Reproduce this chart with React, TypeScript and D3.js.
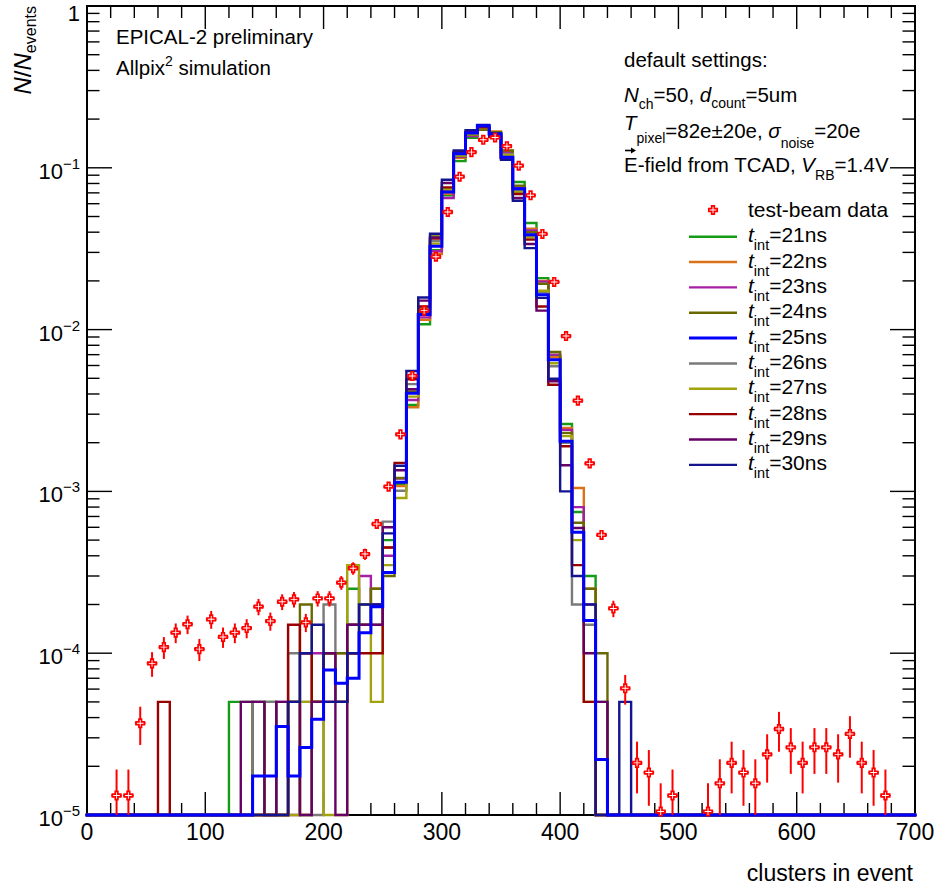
import React from 'react';
import * as d3 from 'd3';

// ---------- data ----------
const BIN_WIDTH = 10;
const BIN_LO = [60,70,80,90,100,110,120,130,140,150,160,170,180,190,200,210,220,230,240,250,260,270,280,290,300,310,320,330,340,350,360,370,380,390,400,410,420,430,440,450];

const SIM_21 = [0,0,0,0,0,0, 5e-5,5e-5,0,5e-5, 0,5e-5,0,5e-5,1e-4, 5e-5,2.5e-4,1.5e-4,2e-4,5.0e-4, 1.11e-3,3.42e-3,1.08e-2,3.1e-2,6.76e-2, 0.110,0.153,0.175,0.164,0.126, 8.17e-2,4.56e-2,2.08e-2,6.9e-3,2.61e-3, 7.46e-4,3.0e-4,5e-5,0,0];
const SIM_22 = [0,0,0,0,0,0, 0,0,0,0, 0,5e-5,0,5e-5,1e-4, 1e-4,1e-4,1.5e-4,2.5e-4,4.5e-4, 1.08e-3,3.31e-3,1.15e-2,2.93e-2,6.9e-2, 0.115,0.159,0.172,0.168,0.127, 7.6e-2,4.21e-2,2.0e-2,6.74e-3,2.47e-3, 1.05e-3,2.5e-4,0,0,0];
const SIM_23 = [0,0,0,0,0,0, 0,0,0,0, 5e-5,0,1e-4,1e-4,5e-5, 5e-5,1.5e-4,3e-4,2e-4,4.0e-4, 1.2e-3,3.67e-3,1.19e-2,3.05e-2,6.5e-2, 0.117,0.157,0.174,0.165,0.124, 7.5e-2,4.1e-2,1.98e-2,7.0e-3,2.4e-3, 8.0e-4,2.0e-4,0,0,0];
const SIM_24 = [0,0,0,0,0,0, 0,0,5e-5,0, 0,5e-5,2e-4,5e-5,1e-4, 1e-4,1.5e-4,2e-4,2.5e-4,3.0e-4, 1.21e-3,4.15e-3,1.28e-2,3.77e-2,7.2e-2, 0.118,0.16,0.172,0.166,0.128, 7.76e-2,4.0e-2,1.92e-2,7.27e-3,2.3e-3, 6.4e-4,2.5e-4,1e-4,0,0];
const SIM_25 = [0,0,0,0,0,0, 0,0,1.74e-5,1.74e-5, 3.52e-5,1.74e-5,2.61e-5,3.9e-5,7.87e-5, 6.52e-5,7.0e-5,1.34e-4,1.94e-4,3.15e-4, 1.14e-3,4.04e-3,1.24e-2,3.27e-2,7.08e-2, 0.122,0.164,0.182,0.162,0.116, 7.43e-2,3.86e-2,1.64e-2,6.52e-3,2.04e-3, 5.6e-4,1.59e-4,2.2e-5,0,0];
const SIM_26 = [0,0,0,0,0,0, 0,0,5e-5,5e-5, 0,1e-4,5e-5,0,2e-4, 5e-5,1e-4,1.5e-4,1.5e-4,6.5e-4, 1.01e-3,4.6e-3,1.3e-2,3.52e-2,7.3e-2, 0.12,0.162,0.177,0.16,0.122, 7.2e-2,3.75e-2,1.7e-2,5.93e-3,2.0e-3, 2.0e-4,1.5e-4,0,0,0];
const SIM_27 = [0,0,0,0,0,0, 0,0,0,0, 0,0,5e-5,5e-5,0, 0,3.5e-4,2e-4,5e-5,3.5e-4, 9.1e-4,3.85e-3,1.35e-2,3.4e-2,7.4e-2, 0.119,0.161,0.176,0.16,0.12, 7.1e-2,3.7e-2,1.74e-2,6.2e-3,2.2e-3, 5.0e-4,5e-5,0,0,0];
const SIM_28 = [5e-5,0,0,0,0,0, 0,0,0,0, 0,1.5e-4,1e-4,5e-5,5e-5, 5e-5,1e-4,1e-4,1e-4,4.5e-4, 1.5e-3,4.93e-3,1.39e-2,3.65e-2,7.57e-2, 0.125,0.165,0.178,0.155,0.115, 6.89e-2,3.6e-2,1.39e-2,4.56e-3,1.9e-3, 3.5e-4,5e-5,0,0,0];
const SIM_29 = [0,0,0,0,0,0, 0,5e-5,5e-5,0, 5e-5,5e-5,0,5e-5,1e-4, 0,1.5e-4,1.5e-4,1.5e-4,6.0e-4, 1.35e-3,4.28e-3,1.51e-2,3.7e-2,8.05e-2, 0.124,0.166,0.18,0.158,0.114, 6.5e-2,3.38e-2,1.31e-2,4.8e-3,1.45e-3, 5.94e-4,1.0e-4,5e-5,0,0];
const SIM_30 = [0,0,0,0,0,0, 0,0,0,0, 0,5e-5,1e-4,1.5e-4,5e-5, 5e-5,1e-4,2e-4,2e-4,5.5e-4, 1.44e-3,5.55e-3,1.58e-2,3.91e-2,8.44e-2, 0.128,0.171,0.184,0.163,0.112, 6.26e-2,3.19e-2,1.57e-2,4.97e-3,1.0e-3, 3.0e-4,2.0e-4,0,0,5e-5];

const SERIES_LABELS = ['21ns','22ns','23ns','24ns','25ns','26ns','27ns','28ns','29ns','30ns'];
const SERIES_VALUES = [SIM_21,SIM_22,SIM_23,SIM_24,SIM_25,SIM_26,SIM_27,SIM_28,SIM_29,SIM_30];
const SERIES_COLORS = ['#169b16','#dc7218','#a61fa6','#686800','#0000ff','#7a7a7a','#a3a30e','#990000','#660066','#14148f'];
const DRAW_ORDER = [0,1,2,3,5,6,7,8,9,4];

const DATA_X = [25,35,45,55,65,75,85,95,105,115,125,135,145,155,165,175,185,195,205,215,225,235,245,255,265,275,285,295,305,315,325,335,345,355,365,375,385,395,405,415,425,435,445,455,465,475,485,495,525,535,545,555,565,575,585,595,605,615,625,635,645,655,665,675];
const DATA_Y = [1.32e-5,1.32e-5,3.69e-5,8.65e-5,1.09e-4,1.34e-4,1.51e-4,1.06e-4,1.62e-4,1.26e-4,1.34e-4,1.43e-4,1.94e-4,1.58e-4,2.08e-4,2.15e-4,1.55e-4,2.18e-4,2.18e-4,2.73e-4,3.35e-4,4.1e-4,6.29e-4,1.07e-3,2.25e-3,5.17e-3,1.31e-2,2.82e-2,5.33e-2,8.81e-2,0.125,0.149,0.154,0.136,0.103,6.76e-2,3.9e-2,1.97e-2,9.12e-3,3.64e-3,1.49e-3,5.38e-4,1.89e-4,6.07e-5,2.1e-5,1.83e-5,1.05e-5,1.32e-5,1.05e-5,1.57e-5,2.1e-5,1.83e-5,1.57e-5,2.37e-5,3.4e-5,2.62e-5,2.1e-5,2.62e-5,2.62e-5,2.37e-5,3.17e-5,2.1e-5,1.83e-5,1.32e-5];
const DATA_ERR = [5.9e-6,5.9e-6,9.8e-6,1.5e-5,1.68e-5,1.87e-5,1.98e-5,1.66e-5,2.05e-5,1.81e-5,1.87e-5,1.93e-5,2.25e-5,2.03e-5,2.33e-5,2.36e-5,2.0e-5,2.38e-5,2.38e-5,2.66e-5,2.95e-5,3.26e-5,4.0e-5,5.3e-5,7.6e-5,1.16e-4,1.85e-4,2.7e-4,3.7e-4,4.8e-4,5.7e-4,6.2e-4,6.3e-4,5.9e-4,5.2e-4,4.2e-4,3.2e-4,2.3e-4,1.54e-4,9.7e-5,6.2e-5,3.74e-5,2.2e-5,1.26e-5,7.4e-6,6.9e-6,5.2e-6,5.9e-6,5.2e-6,6.4e-6,7.4e-6,6.9e-6,6.4e-6,7.85e-6,9.4e-6,8.25e-6,7.4e-6,8.25e-6,8.25e-6,7.85e-6,9.1e-6,7.4e-6,6.9e-6,5.9e-6];
const DATA_XERR = 4.5;

const X_TICKS = [0,100,200,300,400,500,600,700];
const Y_EXPONENTS = [0,-1,-2,-3,-4,-5];

// ---------- layout ----------
const W = 943, H = 886;
const L = 87, R = 915, T = 6, B = 815;
const FONT = '"Liberation Sans", Arial, Helvetica, sans-serif';

const x = d3.scaleLinear().domain([0, 700]).range([L, R]);
const y = d3.scaleLog().domain([1e-5, 1]).range([B, T]);

function histPath(values: number[]): string {
  const lookup = new Map<number, number>();
  BIN_LO.forEach((lo, i) => lookup.set(lo, values[i]));
  const pts: [number, number][] = [[x(0), B]];
  for (let lo = 0; lo < 700; lo += BIN_WIDTH) {
    const v = lookup.get(lo) || 0;
    const yy = v > 1e-5 ? y(v) : B;
    pts.push([x(lo), yy], [x(lo + BIN_WIDTH), yy]);
  }
  pts.push([x(700), B]);
  return d3.line()(pts) || '';
}

function Marker({ cx, cy }: { cx: number; cy: number }) {
  const a = 1.3, b = 4.2;
  const d = `M${cx - a},${cy - b}H${cx + a}V${cy - a}H${cx + b}V${cy + a}H${cx + a}V${cy + b}H${cx - a}V${cy + a}H${cx - b}V${cy - a}H${cx - a}Z`;
  return <path d={d} fill="#fff" stroke="#ff0000" strokeWidth={1.7} />;
}

export default function App() {
  const majorX = X_TICKS;
  const minorX = d3.range(0, 701, 20).filter(v => v % 100 !== 0);
  const majorY = Y_EXPONENTS.map(e => Math.pow(10, e));
  const minorY: number[] = [];
  for (let e = -5; e < 0; e++) for (let k = 2; k <= 9; k++) minorY.push(k * Math.pow(10, e));

  const legendY0 = 236.7, legendDy = 25.35;

  return (
    <svg width={W} height={H} style={{ position: 'absolute', left: 0, top: 0, background: '#fff' }} fontFamily={FONT}>
      <rect x={0} y={0} width={W} height={H} fill="#fff" />
      {/* ticks */}
      <g stroke="#000" strokeWidth={1.4}>
        {majorX.map(v => (
          <g key={'mx' + v}>
            <line x1={x(v)} x2={x(v)} y1={B} y2={B - 23} />
            <line x1={x(v)} x2={x(v)} y1={T} y2={T + 23} />
          </g>
        ))}
        {minorX.map(v => (
          <g key={'nx' + v}>
            <line x1={x(v)} x2={x(v)} y1={B} y2={B - 12} />
            <line x1={x(v)} x2={x(v)} y1={T} y2={T + 12} />
          </g>
        ))}
        {majorY.map(v => (
          <g key={'my' + v}>
            <line x1={L} x2={L + 25} y1={y(v)} y2={y(v)} />
            <line x1={R} x2={R - 25} y1={y(v)} y2={y(v)} />
          </g>
        ))}
        {minorY.map(v => (
          <g key={'ny' + v}>
            <line x1={L} x2={L + 12.5} y1={y(v)} y2={y(v)} />
            <line x1={R} x2={R - 12.5} y1={y(v)} y2={y(v)} />
          </g>
        ))}
      </g>
      <rect x={L} y={T} width={R - L} height={B - T} fill="none" stroke="#000" strokeWidth={2} />

      {/* histograms */}
      <g fill="none" strokeLinejoin="miter" strokeLinecap="square">
        {DRAW_ORDER.map(i => (
          <path key={'h' + i} d={histPath(SERIES_VALUES[i])} stroke={SERIES_COLORS[i]} strokeWidth={i === 4 ? 3 : 2.4} />
        ))}
      </g>

      {/* data */}
      <g>
        {DATA_X.map((xv, i) => {
          const v = DATA_Y[i], e = DATA_ERR[i];
          const cx = x(xv), cy = y(v);
          const yTop = y(v + e);
          const yBot = v - e > 1e-5 ? y(v - e) : B;
          return (
            <g key={'d' + i}>
              <line x1={cx} x2={cx} y1={yTop} y2={yBot} stroke="#ff0000" strokeWidth={2} />
              <line x1={x(xv - DATA_XERR)} x2={x(xv + DATA_XERR)} y1={cy} y2={cy} stroke="#ff0000" strokeWidth={2} />
              <Marker cx={cx} cy={cy} />
            </g>
          );
        })}
      </g>

      {/* axis labels */}
      <g fontSize={23} fill="#000" textAnchor="middle">
        {X_TICKS.map(v => (
          <text key={'xl' + v} x={x(v)} y={840}>{v}</text>
        ))}
      </g>
      <g fontSize={22} fill="#000" textAnchor="end">
        {Y_EXPONENTS.map(e => {
          const ty = y(Math.pow(10, e));
          if (e === 0) return <text key="yl0" x={80} y={ty + 15}>1</text>;
          return (
            <text key={'yl' + e} x={80} y={ty + 11}>
              10<tspan fontSize={15} dy={-10}>{'\u2212' + (-e)}</tspan>
            </text>
          );
        })}
      </g>
      <text x={913} y={881} fontSize={23} textAnchor="end">clusters in event</text>
      <text transform={`translate(31,6) rotate(-90)`} fontSize={24} textAnchor="end">
        <tspan fontStyle="italic">N</tspan>/<tspan fontStyle="italic">N</tspan>
        <tspan fontSize={16} dy={5}>events</tspan>
      </text>

      {/* annotations */}
      <g fontSize={20.5} fill="#000">
        <text x={116} y={44}>EPICAL-2 preliminary</text>
        <text x={116} y={75}>Allpix<tspan fontSize={14} dy={-9}>2</tspan><tspan dy={9}> simulation</tspan></text>

        <text x={624} y={66.7}>default settings:</text>
        <text x={624} y={101.7}>
          <tspan fontStyle="italic">N</tspan>
          <tspan fontSize={14} dy={7}>ch</tspan>
          <tspan dy={-7}>=50, </tspan>
          <tspan fontStyle="italic">d</tspan>
          <tspan fontSize={14} dy={6}>count</tspan>
          <tspan dy={-6}>=5um</tspan>
        </text>
        <text x={624} y={130}>
          <tspan fontStyle="italic">T</tspan>
          <tspan fontSize={14} dy={13}>pixel</tspan>
          <tspan dy={-5}>=82e±20e, </tspan>
          <tspan fontStyle="italic">σ</tspan>
          <tspan fontSize={14} dy={10}>noise</tspan>
          <tspan dy={-10}>=20e</tspan>
        </text>
        <text x={624} y={171.7}>
          <tspan>E-field from TCAD, </tspan>
          <tspan fontStyle="italic">V</tspan>
          <tspan fontSize={14} dy={8}>RB</tspan>
          <tspan dy={-8}>=1.4V</tspan>
        </text>
        <path d="M625,150.5H633" stroke="#000" strokeWidth={1.6} />
        <path d="M631,147.5L636,150.5L631,153.5Z" fill="#000" />
      </g>

      {/* legend */}
      <g>
        <Marker cx={713} cy={210} />
        <text x={748} y={216.7} fontSize={21}>test-beam data</text>
        {SERIES_LABELS.map((lab, i) => {
          const ly = legendY0 + i * legendDy;
          return (
            <g key={'lg' + i}>
              <line x1={689} x2={737} y1={ly} y2={ly} stroke={SERIES_COLORS[i]} strokeWidth={i === 4 ? 3 : 2.4} />
              <text x={748} y={ly + 5.5} fontSize={21}>
                <tspan fontStyle="italic">t</tspan>
                <tspan fontSize={14.5} dy={8}>int</tspan>
                <tspan dy={-8}>={lab}</tspan>
              </text>
            </g>
          );
        })}
      </g>
    </svg>
  );
}
